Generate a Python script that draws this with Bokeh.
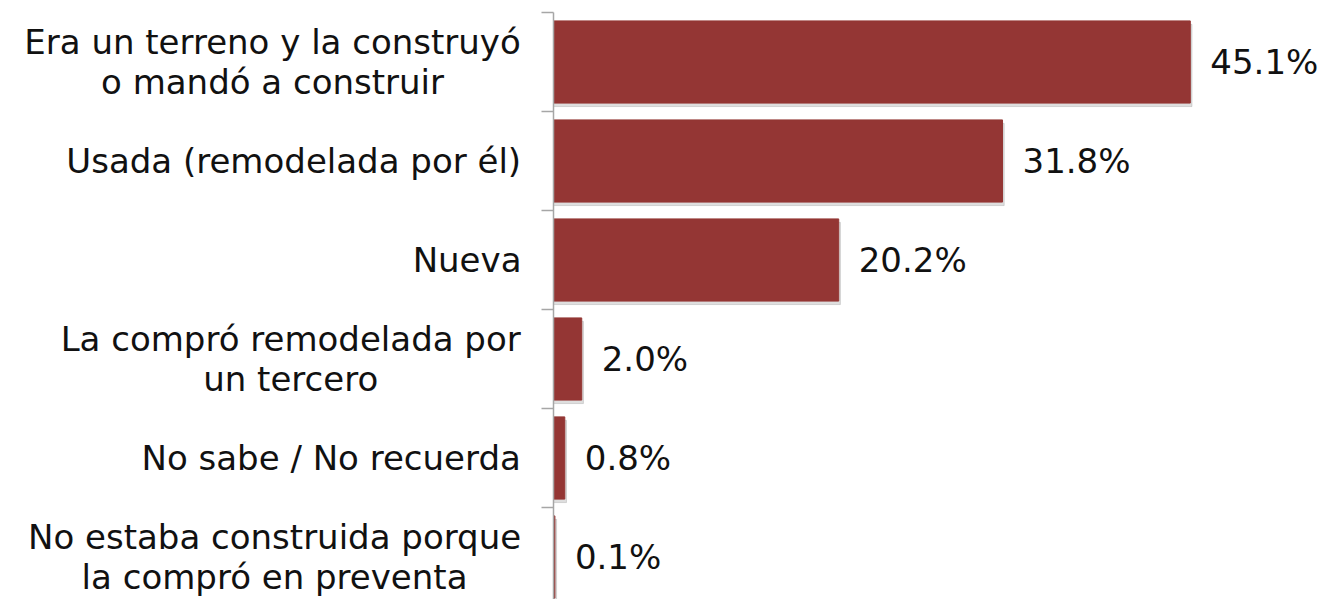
from bokeh.plotting import figure
from bokeh.models import Range1d, ColumnDataSource
from bokeh.core.properties import value
from bokeh.embed import file_html
from bokeh.resources import INLINE

categories = [
    "Era un terreno y la construyó\no mandó a construir",
    "Usada (remodelada por él)",
    "Nueva",
    "La compró remodelada por\nun tercero",
    "No sabe / No recuerda",
    "No estaba construida porque\nla compró en preventa",
]
values = [45.1, 31.8, 20.2, 2.0, 0.8, 0.1]
value_labels = ["45.1%", "31.8%", "20.2%", "2.0%", "0.8%", "0.1%"]

FONT = "DejaVu Sans"
FS = 34
WIDTH, HEIGHT = 1320, 599
AXIS_X = 553          # px from left where the value axis sits
PX_PER_PCT = 14.12    # horizontal scale
TOP = 12              # px from top to first category boundary
PITCH = 99.0          # px per category

# approximate DejaVu Sans advance widths (em) to centre multi-line labels
W = {" ": .318, "a": .613, "b": .635, "c": .550, "d": .635, "e": .615, "f": .352,
     "g": .635, "h": .634, "i": .278, "j": .278, "k": .579, "l": .278, "m": .974,
     "n": .634, "o": .612, "p": .635, "q": .635, "r": .411, "s": .521, "t": .392,
     "u": .634, "v": .592, "w": .818, "x": .592, "y": .592, "z": .525, "ó": .612,
     "é": .615, "E": .632, "L": .557, "N": .748, "U": .732, "/": .337, "(": .390,
     ")": .390}


def text_width(s):
    return max(sum(W.get(ch, .6) for ch in line) for line in s.split("\n")) * FS


n = len(categories)
pos = list(range(n))
src = ColumnDataSource(dict(
    y=pos, v=values, lab=value_labels,
    ys=[p + 0.035 for p in pos], vs=[v + 0.12 for v in values],
))
cat_src = ColumnDataSource(dict(
    x=[0] * n, y=pos, text=categories,
    xo=[-32 - text_width(c) / 2 for c in categories],
))

x_start = -AXIS_X / PX_PER_PCT
x_end = (WIDTH - AXIS_X) / PX_PER_PCT
y_top = -0.5 - TOP / PITCH
y_bot = -0.5 + (HEIGHT - TOP) / PITCH

p = figure(width=WIDTH, height=HEIGHT, output_backend="svg", toolbar_location=None,
           x_range=Range1d(x_start, x_end), y_range=Range1d(y_bot, y_top),
           min_border=0)
p.outline_line_color = None
p.grid.visible = False
p.axis.visible = False
p.background_fill_color = "white"

p.hbar(y="ys", right="vs", left=0, height=0.83, source=src, color="#7a7a7a", alpha=0.25)
p.hbar(y="y", right="v", left=0, height=0.83, source=src, color="#943634")
p.text(x="v", y="y", text="lab", source=src, x_offset=20, text_align="left",
       text_baseline="middle", text_font=value(FONT), text_font_size=f"{FS}px",
       text_color="#111111")

# axis line and category separator ticks
bounds = [i - 0.5 for i in range(n)]
tick_len = 12 / PX_PER_PCT
p.segment(x0=[0], y0=[-0.5], x1=[0], y1=[y_bot], line_color="#a6a6a6", line_width=1.5)
p.segment(x0=[-tick_len] * n, y0=bounds, x1=[0] * n, y1=bounds,
          line_color="#a6a6a6", line_width=1.5)

p.text(x="x", y="y", text="text", x_offset="xo", source=cat_src, text_align="center",
       text_baseline="middle", text_font=value(FONT), text_font_size=f"{FS}px",
       text_color="#111111", text_line_height=0.98)

open("out.html", "w").write(file_html(p, INLINE))
